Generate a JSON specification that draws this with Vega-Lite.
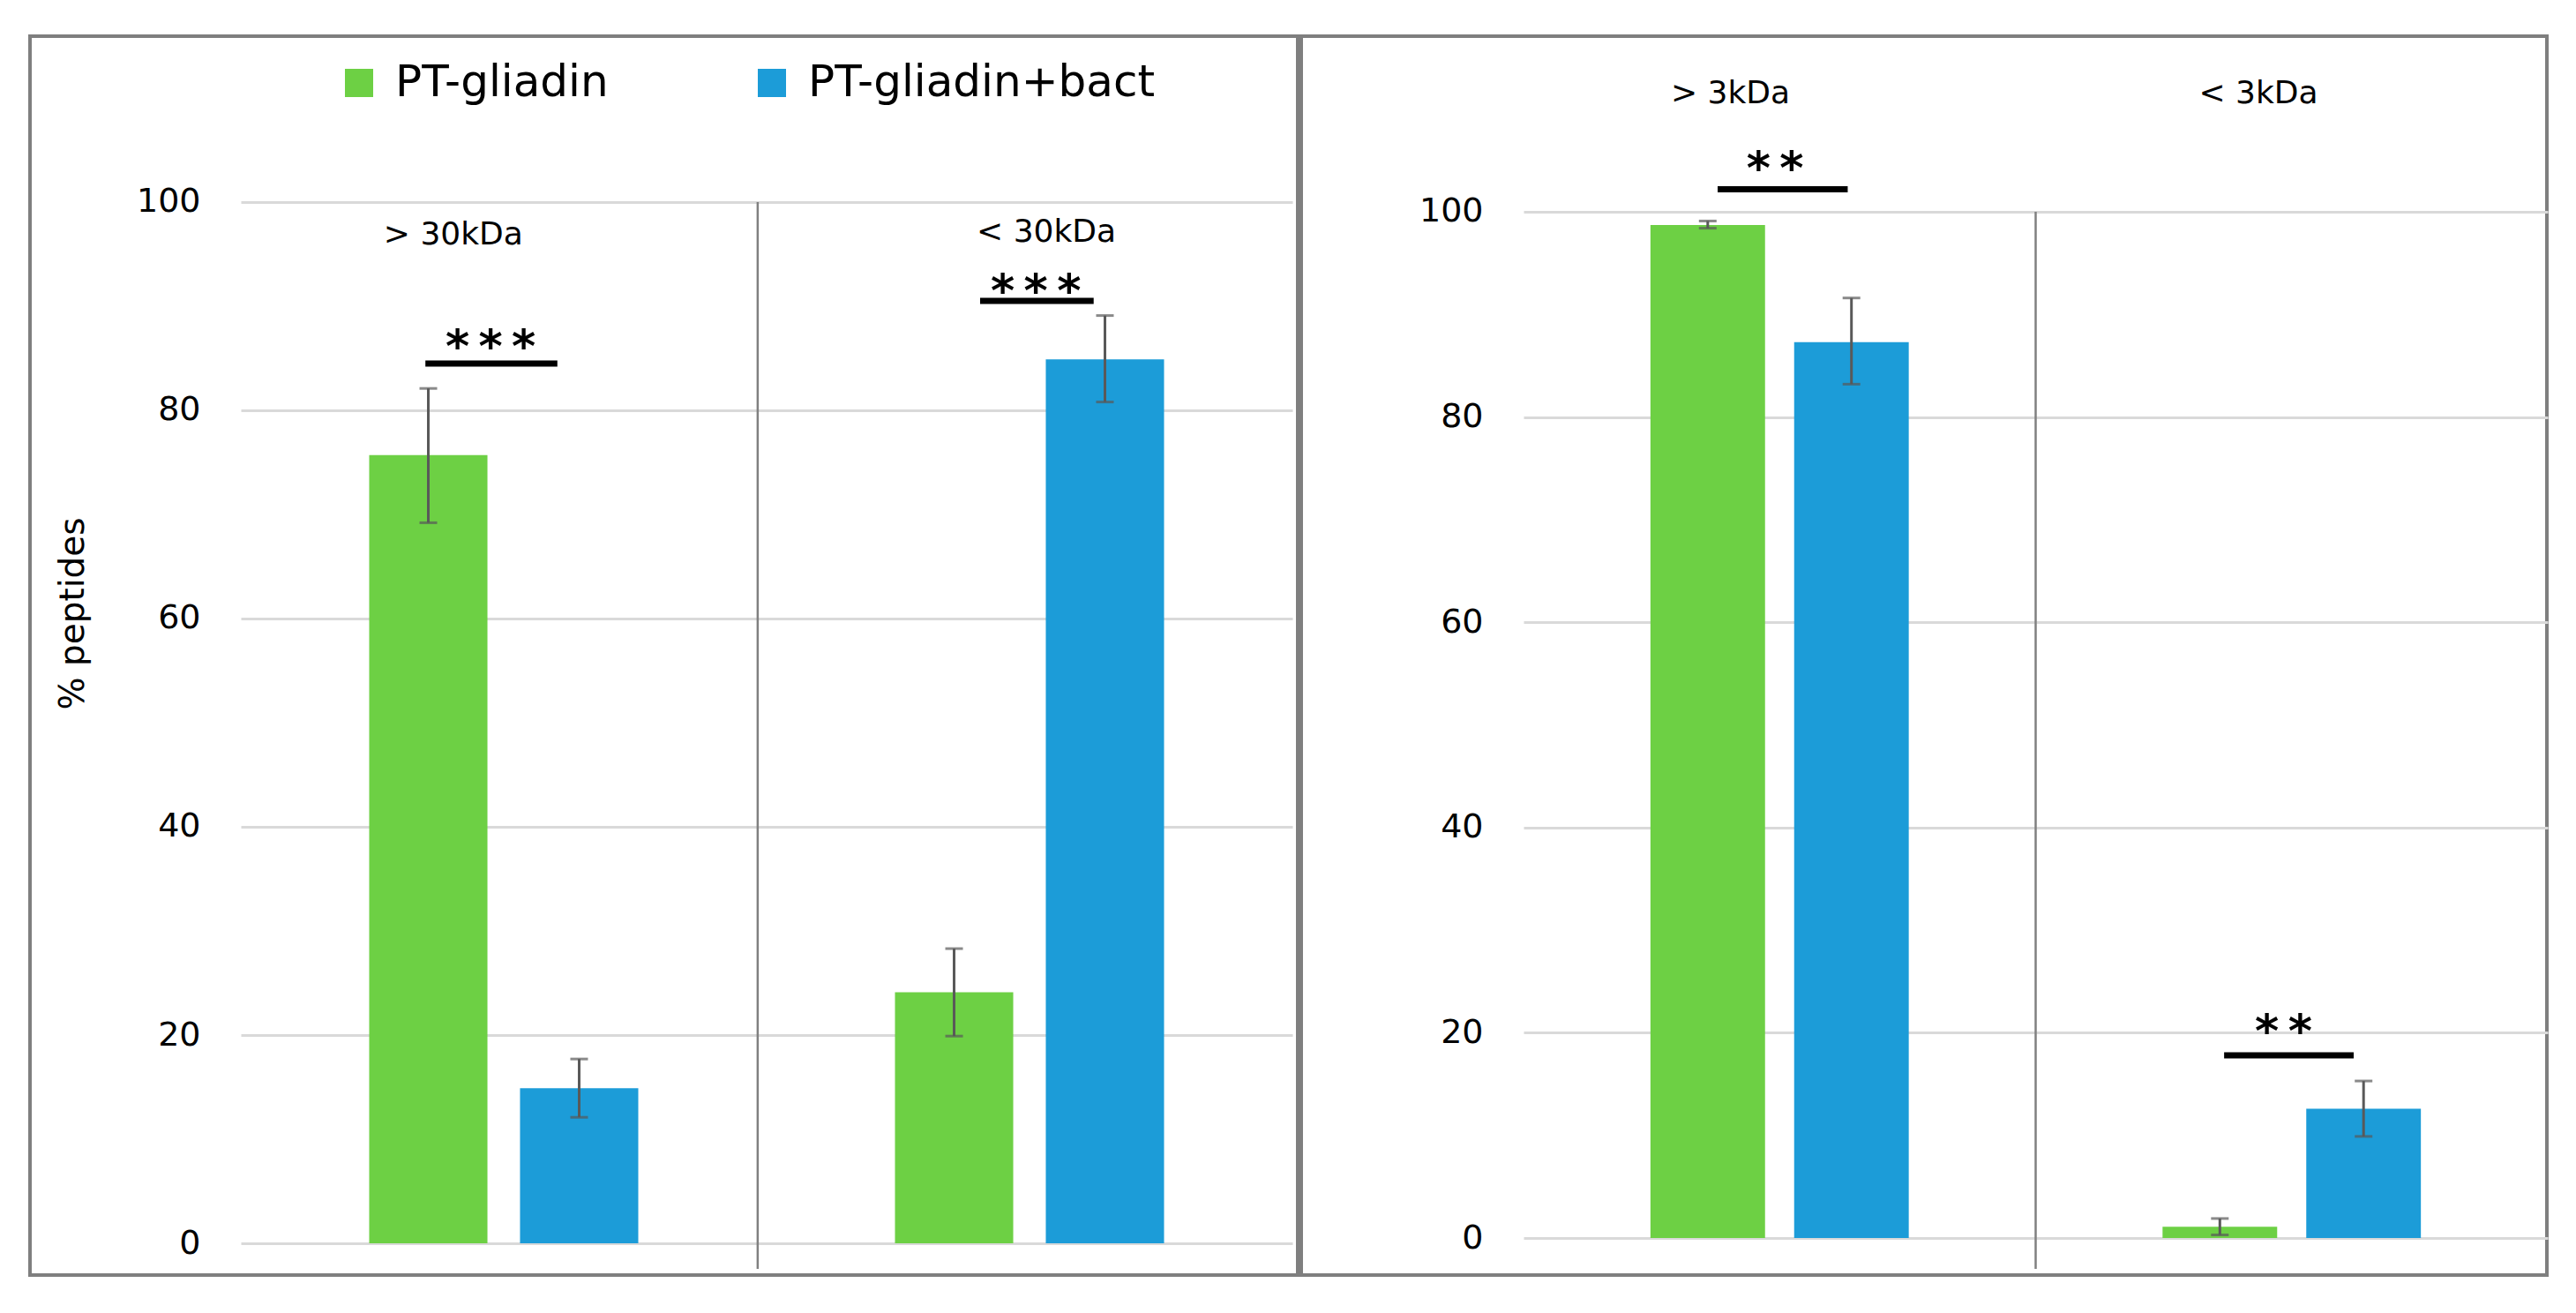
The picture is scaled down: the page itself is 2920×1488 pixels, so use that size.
{
  "$schema": "https://vega.github.io/schema/vega-lite/v6.json",
  "background": "white",
  "padding": {"left": 32, "top": 39, "right": 0, "bottom": 0},
  "autosize": {"type": "pad"},
  "spacing": 0,
  "datasets": {
    "bars": [
      {"panel": "A", "fraction": "> 30kDa", "group": "PT-gliadin", "value": 75.7, "lo": 69.2, "hi": 82.1},
      {"panel": "A", "fraction": "> 30kDa", "group": "PT-gliadin+bact", "value": 14.9, "lo": 12.1, "hi": 17.7},
      {"panel": "A", "fraction": "< 30kDa", "group": "PT-gliadin", "value": 24.1, "lo": 19.9, "hi": 28.3},
      {"panel": "A", "fraction": "< 30kDa", "group": "PT-gliadin+bact", "value": 84.9, "lo": 80.8, "hi": 89.1},
      {"panel": "B", "fraction": "> 3kDa", "group": "PT-gliadin", "value": 98.7, "lo": 98.4, "hi": 99.1},
      {"panel": "B", "fraction": "> 3kDa", "group": "PT-gliadin+bact", "value": 87.3, "lo": 83.2, "hi": 91.6},
      {"panel": "B", "fraction": "< 3kDa", "group": "PT-gliadin", "value": 1.1, "lo": 0.3, "hi": 1.9},
      {"panel": "B", "fraction": "< 3kDa", "group": "PT-gliadin+bact", "value": 12.6, "lo": 9.9, "hi": 15.3}
    ],
    "ann": [
      {"panel": "A", "fraction": "> 30kDa", "stars": "*\u2009*\u2009*"},
      {"panel": "A", "fraction": "< 30kDa", "stars": "*\u2009*\u2009*"},
      {"panel": "B", "fraction": "> 3kDa", "stars": "*\u2009*"},
      {"panel": "B", "fraction": "< 3kDa", "stars": "*\u2009*"}
    ]
  },
  "config": {
    "view": {"stroke": "#7f7f7f", "strokeWidth": 4, "fill": "white"},
    "font": "DejaVu Sans",
    "axisY": {
      "domain": false,
      "ticks": false,
      "grid": true,
      "gridColor": "#d9d9d9",
      "gridWidth": 3,
      "labelFont": "DejaVu Sans",
      "labelFontSize": 38,
      "labelColor": "#000000",
      "labelPadding": 46,
      "titleFont": "DejaVu Sans",
      "titleFontSize": 39,
      "titleFontWeight": "normal",
      "titleColor": "#000000"
    }
  },
  "resolve": {"scale": {"x": "independent", "y": "independent", "xOffset": "independent", "color": "independent"}},
  "hconcat": [
    {
      "width": 1437,
      "height": 1404,
      "layer": [
        {
          "data": {"name": "bars"},
          "transform": [{"filter": "datum.panel === 'A'"}],
          "mark": {"type": "bar"},
          "encoding": {
            "x": {"field": "fraction", "type": "nominal", "sort": null, "axis": null,
                  "scale": {"domain": ["> 30kDa", "< 30kDa"], "range": [239, 1431], "paddingInner": 0, "paddingOuter": 0}},
            "xOffset": {"field": "group", "type": "nominal",
                  "scale": {"domain": ["PT-gliadin", "PT-gliadin+bact"], "paddingInner": 0.216, "paddingOuter": 0.851}},
            "y": {"field": "value", "type": "quantitative",
                  "scale": {"domain": [-3.05, 115.93], "nice": false},
                  "axis": {"values": [0, 20, 40, 60, 80, 100], "offset": -239, "title": "% peptides",
                           "titleX": -191, "titleY": 654, "titleAngle": -90, "titleAlign": "center", "titleBaseline": "middle"}},
            "color": {"field": "group", "type": "nominal",
                  "scale": {"domain": ["PT-gliadin", "PT-gliadin+bact"], "range": ["#6dd044", "#1c9cd8"]},
                  "legend": {"orient": "none", "legendX": 348, "legendY": 28, "direction": "horizontal", "title": null,
                             "symbolType": "square", "symbolSize": 1024, "symbolStrokeWidth": 0,
                             "labelFont": "DejaVu Sans", "labelFontSize": 50, "labelColor": "#000000", "labelOffset": 16,
                             "columnPadding": 160, "padding": 0, "labelLimit": 0}}
          }
        },
        {
          "data": {"name": "bars"},
          "transform": [{"filter": "datum.panel === 'A'"}],
          "mark": {"type": "rule", "color": "#595959", "strokeWidth": 3},
          "encoding": {
            "x": {"field": "fraction", "type": "nominal"},
            "xOffset": {"field": "group", "type": "nominal"},
            "y": {"field": "lo", "type": "quantitative"},
            "y2": {"field": "hi"}
          }
        },
        {
          "data": {"name": "bars"},
          "transform": [{"filter": "datum.panel === 'A'"}],
          "mark": {"type": "tick", "color": "#595959", "thickness": 3, "size": 20},
          "encoding": {
            "x": {"field": "fraction", "type": "nominal"},
            "xOffset": {"field": "group", "type": "nominal"},
            "y": {"field": "lo", "type": "quantitative"}
          }
        },
        {
          "data": {"name": "bars"},
          "transform": [{"filter": "datum.panel === 'A'"}],
          "mark": {"type": "tick", "color": "#595959", "thickness": 3, "size": 20},
          "encoding": {
            "x": {"field": "fraction", "type": "nominal"},
            "xOffset": {"field": "group", "type": "nominal"},
            "y": {"field": "hi", "type": "quantitative"}
          }
        },
        {
          "data": {"name": "ann"},
          "transform": [{"filter": "datum.fraction === '> 30kDa'"}],
          "layer": [
            {"mark": {"type": "rule", "color": "#808080", "strokeWidth": 2.5},
             "encoding": {"x": {"field": "fraction", "type": "nominal", "bandPosition": 0.983}, "y": {"datum": 100}, "y2": {"datum": -2.46}}},
            {"mark": {"type": "text", "fontSize": 36, "font": "DejaVu Sans", "color": "#000000", "baseline": "middle"},
             "encoding": {"x": {"field": "fraction", "type": "nominal", "bandPosition": 0.404}, "y": {"datum": 96.9}, "text": {"field": "fraction"}}},
            {"mark": {"type": "text", "fontSize": 52, "fontWeight": "bold", "font": "DejaVu Sans", "color": "#000000", "baseline": "middle", "dy": 12},
             "encoding": {"x": {"field": "fraction", "type": "nominal", "bandPosition": 0.475}, "y": {"datum": 87.0}, "text": {"field": "stars"}}},
            {"mark": {"type": "rule", "color": "#000000", "strokeWidth": 7},
             "encoding": {"x": {"field": "fraction", "type": "nominal", "bandPosition": 0.351}, "x2": {"field": "fraction", "bandPosition": 0.602}, "y": {"datum": 84.5}}}
          ]
        },
        {
          "data": {"name": "ann"},
          "transform": [{"filter": "datum.fraction === '< 30kDa'"}],
          "layer": [
            {"mark": {"type": "text", "fontSize": 36, "font": "DejaVu Sans", "color": "#000000", "baseline": "middle"},
             "encoding": {"x": {"field": "fraction", "type": "nominal", "bandPosition": 0.532}, "y": {"datum": 97.1}, "text": {"field": "fraction"}}},
            {"mark": {"type": "text", "fontSize": 52, "fontWeight": "bold", "font": "DejaVu Sans", "color": "#000000", "baseline": "middle", "dy": 12},
             "encoding": {"x": {"field": "fraction", "type": "nominal", "bandPosition": 0.512}, "y": {"datum": 92.4}, "text": {"field": "stars"}}},
            {"mark": {"type": "rule", "color": "#000000", "strokeWidth": 7},
             "encoding": {"x": {"field": "fraction", "type": "nominal", "bandPosition": 0.406}, "x2": {"field": "fraction", "bandPosition": 0.622}, "y": {"datum": 90.5}}}
          ]
        }
      ]
    },
    {
      "width": 1412,
      "height": 1404,
      "layer": [
        {
          "data": {"name": "bars"},
          "transform": [{"filter": "datum.panel === 'B'"}],
          "mark": {"type": "bar"},
          "encoding": {
            "x": {"field": "fraction", "type": "nominal", "sort": null, "axis": null,
                  "scale": {"domain": ["> 3kDa", "< 3kDa"], "range": [252, 1413], "paddingInner": 0, "paddingOuter": 0}},
            "xOffset": {"field": "group", "type": "nominal",
                  "scale": {"domain": ["PT-gliadin", "PT-gliadin+bact"], "paddingInner": 0.2025, "paddingOuter": 0.883}},
            "y": {"field": "value", "type": "quantitative",
                  "scale": {"domain": [-3.61, 117.11], "nice": false},
                  "axis": {"values": [0, 20, 40, 60, 80, 100], "offset": -252, "title": null}},
            "color": {"field": "group", "type": "nominal",
                  "scale": {"domain": ["PT-gliadin", "PT-gliadin+bact"], "range": ["#6dd044", "#1c9cd8"]},
                  "legend": null}
          }
        },
        {
          "data": {"name": "bars"},
          "transform": [{"filter": "datum.panel === 'B'"}],
          "mark": {"type": "rule", "color": "#595959", "strokeWidth": 3},
          "encoding": {
            "x": {"field": "fraction", "type": "nominal"},
            "xOffset": {"field": "group", "type": "nominal"},
            "y": {"field": "lo", "type": "quantitative"},
            "y2": {"field": "hi"}
          }
        },
        {
          "data": {"name": "bars"},
          "transform": [{"filter": "datum.panel === 'B'"}],
          "mark": {"type": "tick", "color": "#595959", "thickness": 3, "size": 20},
          "encoding": {
            "x": {"field": "fraction", "type": "nominal"},
            "xOffset": {"field": "group", "type": "nominal"},
            "y": {"field": "lo", "type": "quantitative"}
          }
        },
        {
          "data": {"name": "bars"},
          "transform": [{"filter": "datum.panel === 'B'"}],
          "mark": {"type": "tick", "color": "#595959", "thickness": 3, "size": 20},
          "encoding": {
            "x": {"field": "fraction", "type": "nominal"},
            "xOffset": {"field": "group", "type": "nominal"},
            "y": {"field": "hi", "type": "quantitative"}
          }
        },
        {
          "data": {"name": "ann"},
          "transform": [{"filter": "datum.fraction === '> 3kDa'"}],
          "layer": [
            {"mark": {"type": "rule", "color": "#808080", "strokeWidth": 2.5},
             "encoding": {"x": {"field": "fraction", "type": "nominal", "bandPosition": 1.0}, "y": {"datum": 100}, "y2": {"datum": -3.0}}},
            {"mark": {"type": "text", "fontSize": 36, "font": "DejaVu Sans", "color": "#000000", "baseline": "middle"},
             "encoding": {"x": {"field": "fraction", "type": "nominal", "bandPosition": 0.404}, "y": {"datum": 111.5}, "text": {"field": "fraction"}}},
            {"mark": {"type": "text", "fontSize": 52, "fontWeight": "bold", "font": "DejaVu Sans", "color": "#000000", "baseline": "middle", "dy": 12},
             "encoding": {"x": {"field": "fraction", "type": "nominal", "bandPosition": 0.491}, "y": {"datum": 105.2}, "text": {"field": "stars"}}},
            {"mark": {"type": "rule", "color": "#000000", "strokeWidth": 7},
             "encoding": {"x": {"field": "fraction", "type": "nominal", "bandPosition": 0.379}, "x2": {"field": "fraction", "bandPosition": 0.633}, "y": {"datum": 102.2}}}
          ]
        },
        {
          "data": {"name": "ann"},
          "transform": [{"filter": "datum.fraction === '< 3kDa'"}],
          "layer": [
            {"mark": {"type": "text", "fontSize": 36, "font": "DejaVu Sans", "color": "#000000", "baseline": "middle"},
             "encoding": {"x": {"field": "fraction", "type": "nominal", "bandPosition": 0.435}, "y": {"datum": 111.5}, "text": {"field": "fraction"}}},
            {"mark": {"type": "text", "fontSize": 52, "fontWeight": "bold", "font": "DejaVu Sans", "color": "#000000", "baseline": "middle", "dy": 12},
             "encoding": {"x": {"field": "fraction", "type": "nominal", "bandPosition": 0.484}, "y": {"datum": 21.1}, "text": {"field": "stars"}}},
            {"mark": {"type": "rule", "color": "#000000", "strokeWidth": 7},
             "encoding": {"x": {"field": "fraction", "type": "nominal", "bandPosition": 0.368}, "x2": {"field": "fraction", "bandPosition": 0.621}, "y": {"datum": 17.8}}}
          ]
        }
      ]
    }
  ]
}
